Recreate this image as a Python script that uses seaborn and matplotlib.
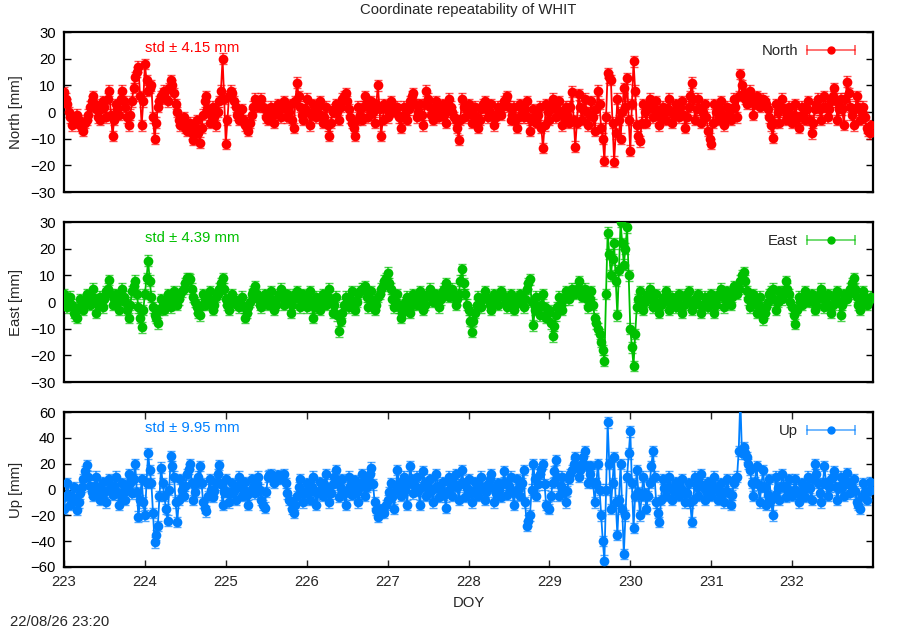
import numpy as np
import pandas as pd
import matplotlib
matplotlib.use("Agg")
import matplotlib.pyplot as plt
import seaborn as sns
from matplotlib.lines import Line2D
from matplotlib.legend_handler import HandlerBase

# ---------------- data (mm) ----------------
# "a" lists: epochs at DOY 223.00, 223.04, ... ; "b" lists: epochs at 223.02, 223.06, ...
DOY_START = 223.0
DOY_STEP = 0.02

north_a = [
    7.5, 3, -2, -4, -1, -5, -7, -3, 2, 6, 1, -3, 4, -2, 8, -9, 3, -1, 8, 2, -5, 4, 13, 17, -5,
    18, 8, 10, -10, 2, 6, 8, 4, 12, 7, 0, -5, -2, -7, -4, -10.5, -3, -11.5, -1, 6, -4, 2, -5, 4, 20,
    -12, 6, 7, 2, -3, 1, -5, -7, -1, 5, 2, 5, 1, -3, 2, -4, 3, -2, 4, -2, 3, -6, 11, 2, -3,
    5, -5, 3, -2, 4, -4, 2, -9, 0, 3, -3, 5, 7, 1, -4, -9, 2, -3, 6, -2, 4, -4, 10, -9, 3,
    -2, 4, 0, 2, -6, 2, -3, 4, 7, -2, 3, -5, 8, 2, -3, 4, -2, 3, -4, 5, 0, -3, -10.5, 5, -2,
    3, -4, 2, -6, 1, 4, -2, 3, -5, 2, -1, 4, 6, -3, 2, -6, 3, -2, 4, -7, 1, -4, 2, -13.5, 3,
    -3, 5, -2, 4, -5, 2, -4, 7.6, -13, 6.6, -3, 5, -5, 4, -7, 8, -6, -18.4, 14.6, 12, -18.6, 5, -10, 9, 12.6,
    -14.5, 19, -5, -11, 3, -4, 5, -2, 4, -5, 2, -3, 5, -4, 3, -2, 4, -6, 2, 11, -3, 5, -4, 3, -7,
    -12, 3, -3, 4, -5, 2, -3, 5, -2, 14.2, 7, 3, 8, -1, 6, 2, 5, 3, -2, -9.8, 3, -4, 5, -3, 2,
    -4, 3, -6, 2, -3, 4, -8, 1, 5, -3, 6, -2, 4, 9, -3, 5, -4.9, 11.4, 2, -5, 6, -3, 2, -6, -8,
]
north_b = [
    5, 0, -5, -2, -3, -6, -4, -1, 4, 3, -2, 1, 2, 5, -1, -3, 1, 5, 4, -2, -1, 9, 15, 6, 4,
    12, 9, -2, -4, 4, 7, 5, 9, 10, 3, -3, -4, -6, -5, -8, -6, -8, -6, 4, 1, -1, -2, 0, 8, 5,
    -3, 8, 4, -1, -2, -3, -6, -4, 2, 3, 4, 2, -2, 0, -1, 0, 1, 2, 1, 0, -3, 4, 6, -1, 1,
    0, -1, 1, 2, -1, -2, -5, -4, 1, 0, 2, 6, 4, -2, -6, -3, -1, 2, 3, 1, 0, 3, 1, -3, 1,
    1, 2, 1, -2, -2, -1, 1, 6, 3, 0, -1, 3, 5, -1, 1, 1, 0, -1, 1, 2, -2, -6, -3, 2, 1,
    0, -1, -2, -3, 3, 1, 0, -2, -2, 0, 2, 5, 2, -1, -3, -2, 1, 1, -2, -3, -2, -1, -6, -5, 0,
    1, 2, 1, 0, -2, -1, 2, -3, -4, 2, 1, 0, -1, -2, 1, 3, -10, -2, 13, -4, -8, -3, 0, 2, -3,
    3, 8, -9, -4, 0, 1, 2, 1, -1, -2, 0, 1, 0, -1, 1, 2, -1, -2, 6, 5, 1, 1, 0, -2, -10,
    -4, 0, 1, -1, -2, -1, 1, 2, 6, 10, 5, 6, 4, 3, 4, 4, 4, 1, -5, -4, 0, 1, 1, -1, -1,
    -1, -2, -2, -1, 1, -3, -4, 3, 1, 2, 2, 1, 6, 4, 1, 1, 5, 7, -1, 1, 2, 0, -2, -7, -5,
]

east_a = [
    3, -2, 2, -4, -6, 1, -3, 3, -1, 5, -4, 2, -2, 4, 8.2, -1, 3, -3, 5, 0, -6, 4, 8, -2, -9.5,
    3, 15.5, 2, -5, -8, 1, -3, 3, -2, 4, -1, 3, 5, 9, 8.5, 2, -2, -5, 3, -1, 4, -3, 2, 5, 9,
    1, -3, 3, 0, -2, 2, -6, -2, 3, 6, 1, -2, 3, -1, 4, -3, 2, 5, -1, 3, -4, 2, 4, -2, 3,
    -2, 4, -6, 2, -3, 3, -1, 5, -4, 2, -11, -4, 2, -2, 4, -3, 3, 5, 6, -2, 4, -3, 2, 5, 8,
    11, 5, -2, 3, -6, -2, 2, -4, 3, -1, 4, -3, 2, 5, 0, 3, -2, 4, 7, 2, 5, -1, 3, 12.3, 3,
    -3, -11.2, -4, 2, -2, 4, 1, -3, 3, -1, 4, 2, -2, 3, -3, 1, 3, -2, 5, 8.5, -8.7, 2, -5, 3, -6,
    -3, -12.9, -5, 2, -3, 4, 1, 5, 3, 7.9, 2, 5, -2, 4, -6, -10, -15, -22, 26, 10, 22, -5, 30, 14, 28,
    -10, -24, -2, 4, -3, 2, 5, -2, 3, -4, 1, 4, -3, 2, -2, 3, -4, 2, 4, -3, 1, 3, -4, 2, -2,
    3, -4, 2, 5, -2, 4, -1, 6, 3, 8, 11.3, 4, -2, 3, -4, 2, -6.5, -2, 3, 5, -3, 4, 1, 7.9, 3,
    -2, -8.2, 2, -1, 4, 0, 3, -3, 2, 5, -2, 3, -4, 2, 4, -5, 3, 1, 5, 8.9, 2, -3, 4, -1, 1,
]
east_b = [
    0, 0, -1, -5, -2, -1, 0, 1, 2, 1, -1, 0, 1, 5, 3, 1, 0, 1, 2, -3, -1, 6, 3, -6, -3,
    9, 8, -2, -6, -3, -1, 0, 0, 1, 1, 1, 4, 7, 9, 5, 0, -4, -1, 1, 1, 0, -1, 3, 7, 5,
    -1, 0, 1, -1, 0, -2, -4, 0, 4, 3, -1, 0, 1, 2, 0, -1, 3, 2, 1, 0, -1, 3, 1, 0, 1,
    1, -1, -2, 0, 0, 1, 2, 0, -1, -5, -7, -1, 0, 1, 0, 0, 4, 5, 2, 1, 0, -1, 3, 6, 9,
    7, 1, 0, -2, -4, 0, -1, -1, 1, 2, 0, -1, 3, 2, 1, 0, 1, 5, 4, 3, 2, 1, 8, 7, -1,
    -7, -7, -1, 0, 1, 2, -1, 0, 1, 2, 3, 0, 1, 0, -1, 2, 0, 1, 7, 0, -3, -2, -1, -2, -4,
    -8, -9, -2, -1, 1, 2, 3, 4, 5, 5, 3, 1, 1, -1, -8, -12, -18, 3, 18, 16, 8, 12, 22, 20, 10,
    -17, -12, 1, 0, 0, 3, 1, 0, -1, -1, 2, 0, 0, 0, 1, -1, -1, 3, 0, -1, 2, -1, -1, 0, 1,
    0, -1, 3, 2, 1, 2, 2, 4, 5, 10, 8, 1, 0, 0, -1, -2, -4, 0, 4, 1, 0, 2, 4, 5, 0,
    -5, -3, 0, 1, 2, 1, 0, -1, 3, 1, 0, -1, -1, 3, 0, -1, 2, 3, 7, 5, -1, 0, 2, 0, 2,
]

up_a = [
    -15, 5, -12, 2, -16, -3, 8, 19, 3, -5, 10, -8, 6, -10, 8, -4, 10, -12, 5, -8, 12, -3, 20, -21, 8,
    -20, 28, 5, -41, -28, 17, -5, -24, 26, 10, -25, 8, -5, 12, 20, -8, 5, 18, -10, -17, 8, -6, 5, 19, -12,
    8, -10, 5, -8, 10, -5, 6, -12, 8, -3, 10, -8, -14, 10, 12, 5, 11, 8, 12, -3, -10, -18, -5, 8, -10,
    5, -8, 10, -12, 6, -5, 12, -10, 4, 15, -6, 8, -12, 10, -4, 7, -10, 12, -5, 8, 17, -10, -21, -15, -18,
    -8, 5, -15, 15, -5, 10, -12, 18, -3, 10, -12, 14, -5, 8, -10, 12, -6, 6, -14, 10, -5, 12, -8, 15, -6,
    8, -10, 6, -5, 10, -8, 4, 12, -10, 5, -6, 14, -4, 10, -12, 8, -5, 15, -28, -20, 20, -5, 12, 20, -12,
    -15, 5, 23, -5, 10, -10, 8, 15, 25, 10, 20, 30, 5, 18, -10, 20, -20, -55, 52, -15, 25, -35, 20, -50, 10,
    45, -30, 15, -20, 10, -15, 5, 30, -10, -25, 8, -5, 10, -8, 6, -5, 8, -10, 5, -25, 10, -5, 12, -8, 6,
    -5, 10, -8, 5, -10, 8, -12, 5, 10, 70, 33, 25, 15, -5, 18, -10, 15, -12, 8, -20, 10, -8, 12, -6, 8,
    -5, 8, -10, 5, -6, 10, -8, 20, 5, -10, 18, -5, 8, 14, -8, 10, -5, 13, -3, 8, -10, -15, 5, -8, 6,
]
up_b = [
    -5, -4, -6, -8, -10, 2, 14, 10, -2, 3, 0, -1, -2, 0, 2, 3, -2, -4, -2, 3, 5, 8, -2, -8, -10,
    5, 15, -18, -35, -5, 5, -15, 0, 18, -10, -8, 0, 3, 16, 5, -2, 10, 5, -14, -5, 0, -1, 12, 4, -2,
    -2, -3, -1, 2, 3, 0, -4, -2, 2, 4, 0, -12, -2, 11, 8, 8, 10, 10, 5, -8, -15, -12, 2, -1, -3,
    -2, 2, -2, -3, 0, 4, 0, -3, 10, 5, 1, -3, -2, 3, 1, -2, 2, 4, 2, 12, 4, -16, -18, -16, -12,
    -2, -6, 0, 5, 3, 0, 5, 8, 3, -1, 2, 5, 2, -1, 1, 3, 0, -4, -2, 3, 4, 2, 4, 5, 1,
    -1, -2, 0, 3, 1, -2, 8, 1, -3, 0, 4, 5, 3, -1, -2, 1, 5, -10, -24, 0, 8, 4, 16, 4, -14,
    -5, 14, 10, 3, 0, -1, 12, 20, 18, 15, 25, 18, 12, 5, 5, 0, -40, 0, 20, 5, -10, -8, -15, -20, 28,
    5, -5, -2, -5, -3, -5, 18, 10, -18, -8, 1, 2, 1, -1, 0, 2, -1, -3, -10, -8, 2, 4, 2, -1, 0,
    2, 1, -2, -3, -1, -3, -4, 8, 30, 28, 28, 20, 5, 6, 4, 2, 2, -4, -8, -5, 1, 2, 3, 1, -2,
    0, -1, -3, 0, 2, 1, 8, 12, -3, 5, 5, 2, 10, 2, 1, 2, 4, 5, 2, -1, -12, -5, -2, -1, 0,
]

components = ["North", "East", "Up"]
stds = [4.15, 4.39, 9.95]
sigmas = [2.0, 2.0, 4.0]
colors = ["#ff0000", "#00c000", "#0080ff"]
ylims = [(-30, 30), (-30, 30), (-60, 60)]
ysteps = [10, 10, 20]
xticks = [223, 224, 225, 226, 227, 228, 229, 230, 231, 232]
title = "Coordinate repeatability of WHIT"
stamp = "22/08/26 23:20"


def interleave(a, b):
    out = np.empty(len(a) + len(b))
    out[0::2] = a
    out[1::2] = b
    return out


series = [interleave(north_a, north_b), interleave(east_a, east_b), interleave(up_a, up_b)]
n = len(series[0])
doy = np.round(DOY_START + DOY_STEP * np.arange(n), 2)

# ---------------- style ----------------
sns.set_theme(style="white")
plt.rcParams["font.family"] = ["Liberation Sans", "DejaVu Sans"]
FS = 10.7


class ErrKey(HandlerBase):
    def create_artists(self, legend, orig_handle, xdescent, ydescent,
                       width, height, fontsize, trans):
        c = orig_handle.get_color()
        y = (height - ydescent) / 2
        x0, x1 = -xdescent, width - xdescent
        line = Line2D([x0, x1], [y, y], color=c, alpha=0.6, lw=1.3, transform=trans)
        caps = Line2D([x0, x1], [y, y], color=c, alpha=0.6, ls="none",
                      marker="|", markersize=7, markeredgewidth=1.3, transform=trans)
        dot = Line2D([(x0 + x1) / 2], [y], color=c, marker="o", ls="none",
                     markersize=5, transform=trans)
        return [line, caps, dot]


fig = plt.figure(figsize=(9, 6.3), dpi=100)
boxes = [
    [64 / 900, (630 - 192) / 630, 809 / 900, 160 / 630],
    [64 / 900, (630 - 382) / 630, 809 / 900, 160 / 630],
    [64 / 900, (630 - 567) / 630, 809 / 900, 155 / 630],
]

for i, comp in enumerate(components):
    ax = fig.add_axes(boxes[i])
    df = pd.DataFrame({"DOY": doy, "val": series[i]})
    ax.errorbar(df["DOY"], df["val"], yerr=sigmas[i], fmt="none",
                ecolor=colors[i], alpha=0.7, elinewidth=1.2, capsize=3, zorder=2)
    sns.lineplot(data=df, x="DOY", y="val", ax=ax, color=colors[i],
                 estimator=None, sort=False, linewidth=1.3, marker="o",
                 markersize=7, markeredgewidth=0, zorder=3)
    ax.set_xlim(223, 233)
    lo, hi = ylims[i]
    ax.set_ylim(lo, hi)
    ax.set_yticks(np.arange(lo, hi + 1, ysteps[i]))
    ax.tick_params(axis="y", which="both", direction="in", left=True, right=True,
                   length=5, width=1, labelsize=FS, colors="black", pad=6)
    ax.set_ylabel(f"{comp} [mm]", fontsize=FS)
    ax.yaxis.set_label_coords(-0.051, 0.5)
    if i == 2:
        ax.set_xticks(xticks)
        ax.tick_params(axis="x", direction="in", bottom=True, top=True,
                       length=5, width=1, labelsize=FS, pad=6)
        ax.set_xlabel("DOY", fontsize=FS, labelpad=5)
    else:
        ax.set_xticks([])
        ax.set_xlabel("")
    for sp in ax.spines.values():
        sp.set_visible(True)
        sp.set_color("black")
        sp.set_linewidth(1.6)
    ax.text(0.1, 0.9, f"std \u00b1 {stds[i]:.2f} mm", transform=ax.transAxes,
            color=colors[i], fontsize=FS, ha="left", va="center")
    proxy = Line2D([], [], color=colors[i])
    ax.legend(handles=[proxy], labels=[comp], handler_map={Line2D: ErrKey()},
              loc="upper right", bbox_to_anchor=(0.99, 0.99), frameon=False,
              markerfirst=False, handlelength=3.2, handletextpad=0.6,
              fontsize=FS, borderaxespad=0.3)

fig.text(468 / 900, 1 - 10 / 630, title, ha="center", va="center", fontsize=FS)
fig.text(10 / 900, 1 - 622 / 630, stamp, ha="left", va="center", fontsize=FS)

fig.savefig("out.png", dpi=100)
